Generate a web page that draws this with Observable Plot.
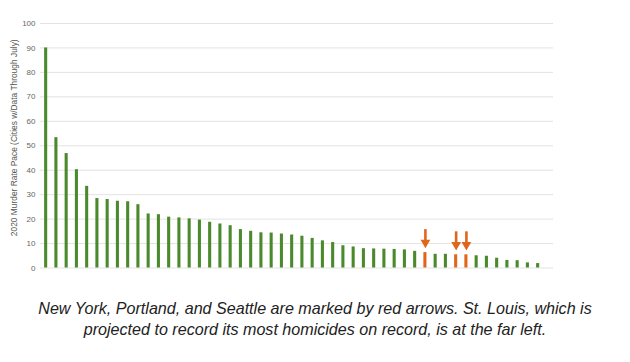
<!DOCTYPE html>
<html>
<head>
<meta charset="utf-8">
<script src="https://cdn.jsdelivr.net/npm/d3@7"></script>
<script src="https://cdn.jsdelivr.net/npm/@observablehq/plot@0.6"></script>
<style>
  html, body { margin: 0; padding: 0; background: #fff; }
  #wrap { width: 630px; }
  #caption {
    margin: 13px 0 0 0;
    font-family: "Liberation Sans", Arial, sans-serif;
    font-style: italic;
    font-size: 16.1px;
    line-height: 21px;
    color: #222;
    text-align: center;
  }
</style>
</head>
<body>
<div id="wrap">
  <div id="chart"></div>
  <p id="caption">New York, Portland, and Seattle are marked by red arrows. St. Louis, which is<br>projected to record its most homicides on record, is at the far left.</p>
</div>
<script>
// City rank (1 = St. Louis at the far left), sorted by murder rate pace
const ranks = d3.range(1, 50);
// 2020 murder rate pace values
const values = [
  90.0, 53.3, 46.8, 40.2, 33.4, 28.4, 28.0, 27.3, 27.1, 25.9,
  22.1, 21.8, 20.8, 20.5, 20.1, 19.6, 18.7, 18.0, 17.3, 15.7,
  15.0, 14.4, 14.3, 13.9, 13.5, 13.0, 12.1, 11.1, 10.4, 9.1,
  8.6, 7.9, 7.8, 7.7, 7.6, 7.4, 6.8, 6.3, 5.6, 5.6,
  5.4, 5.4, 5.0, 4.8, 4.0, 3.1, 3.0, 2.1, 1.8
];
// Ranks of the cities marked by red arrows (New York, Portland, Seattle)
const markedRanks = [38, 41, 42];
const yTicks = [0, 10, 20, 30, 40, 50, 60, 70, 80, 90, 100];
const yLabel = "2020 Murder Rate Pace (Cities w/Data Through July)";

const green = "#4a8a2c";
const orange = "#e0661b";

const data = ranks.map((r, i) => ({rank: r, value: values[i], marked: markedRanks.includes(r)}));
const marked = data.filter(d => d.marked);

const chart = Plot.plot({
  width: 630,
  height: 285,
  marginLeft: 40,
  marginRight: 77,
  marginTop: 23,
  marginBottom: 17.5,
  style: {background: "#fff", fontFamily: "Arial, 'Liberation Sans', sans-serif"},
  x: {type: "band", domain: ranks, paddingInner: 0.7, paddingOuter: 0.875, align: 0.23, round: false, axis: null},
  y: {domain: [0, 100], axis: null},
  marks: [
    Plot.gridY(yTicks, {stroke: "#e3e3e3", strokeOpacity: 1, strokeWidth: 1}),
    Plot.axisY(yTicks, {tickSize: 0, tickPadding: 5, fontSize: 8, fill: "#666", label: null}),
    Plot.text([yLabel], {frameAnchor: "left", textAnchor: "middle", rotate: -90, dx: -26, dy: -8, fontSize: 8.4, fill: "#555", text: d => d}),
    Plot.barY(data, {x: "rank", y: "value", fill: d => d.marked ? orange : green}),
    Plot.ruleX(marked, {x: "rank", y1: d => d.value + 4.1, y2: d => d.value + 9.4, stroke: orange, strokeWidth: 2.6}),
    Plot.dot(marked, {x: "rank", y: "value", dy: -10, symbol: "triangle", rotate: 180, r: 3.6, fill: orange, stroke: "none"})
  ]
});
document.getElementById("chart").appendChild(chart);
</script>
</body>
</html>
